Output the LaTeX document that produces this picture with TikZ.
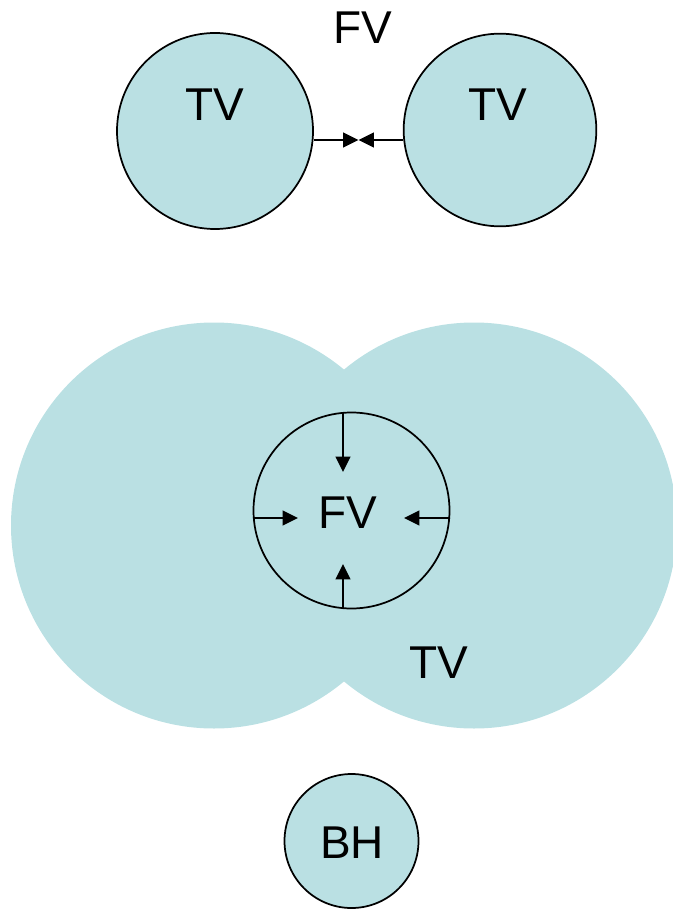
\documentclass[tikz,border=0pt]{standalone}
\usepackage{fontspec}
\setmainfont{Liberation Sans}
\usetikzlibrary{arrows.meta}
\definecolor{vapour}{RGB}{186,224,227}
\tikzset{
    ball/.style={
        circle, draw, fill=vapour, line width=1.3pt,
        inner sep=0pt
    },
    lab/.style={
        inner sep=0pt, font=\fontsize{34.5}{40}\selectfont
    },
    arr/.style={->, line width=1.3pt}
}

\begin{document}
\begin{tikzpicture}[x=0.75pt, y=-0.75pt,
    >={Triangle[length=11.5pt, width=11pt]}]
\useasboundingbox (0,0) rectangle (672,909);

% Two separate vapour regions
\node[ball, minimum size=147pt] (tvl) at (215,131) {};
\node[ball, minimum size=144.5pt] (tvr) at (500,130) {};
\node[lab] (tvltxt) at (215,105) {TV};
\node[lab] (tvrtxt) at (498,105) {TV};
\node[lab] (fvtop) at (363,28) {FV};
\coordinate (meet) at (358.5,140);

\draw[arr] (tvl.east |- meet) -- (meet);
\draw[arr] (tvr.west |- meet) -- (meet);

% Merged region
\fill[vapour] (214,525.5) circle[radius=203];
\fill[vapour] (474,525.5) circle[radius=203];
\node[ball, minimum size=147pt] (fv) at (351.5,510.5) {};
\node[lab] (fvtxt) at (348,513) {FV};
\node[lab] (tvtxt) at (439,663) {TV};

\coordinate (pinN) at (343,472);
\coordinate (pinS) at (343,564);
\coordinate (pinW) at (298,518);
\coordinate (pinE) at (404,518);
\draw[arr] (fv.north -| pinN) -- (pinN);
\draw[arr] (fv.south -| pinS) -- (pinS);
\draw[arr] (fv.west |- pinW) -- (pinW);
\draw[arr] (fv.east |- pinE) -- (pinE);

% Collapsed state
\node[ball, minimum size=100.5pt] (bh) at (351.5,841) {};
\node[lab] (bhtxt) at (352,843) {BH};

\end{tikzpicture}
\end{document}
